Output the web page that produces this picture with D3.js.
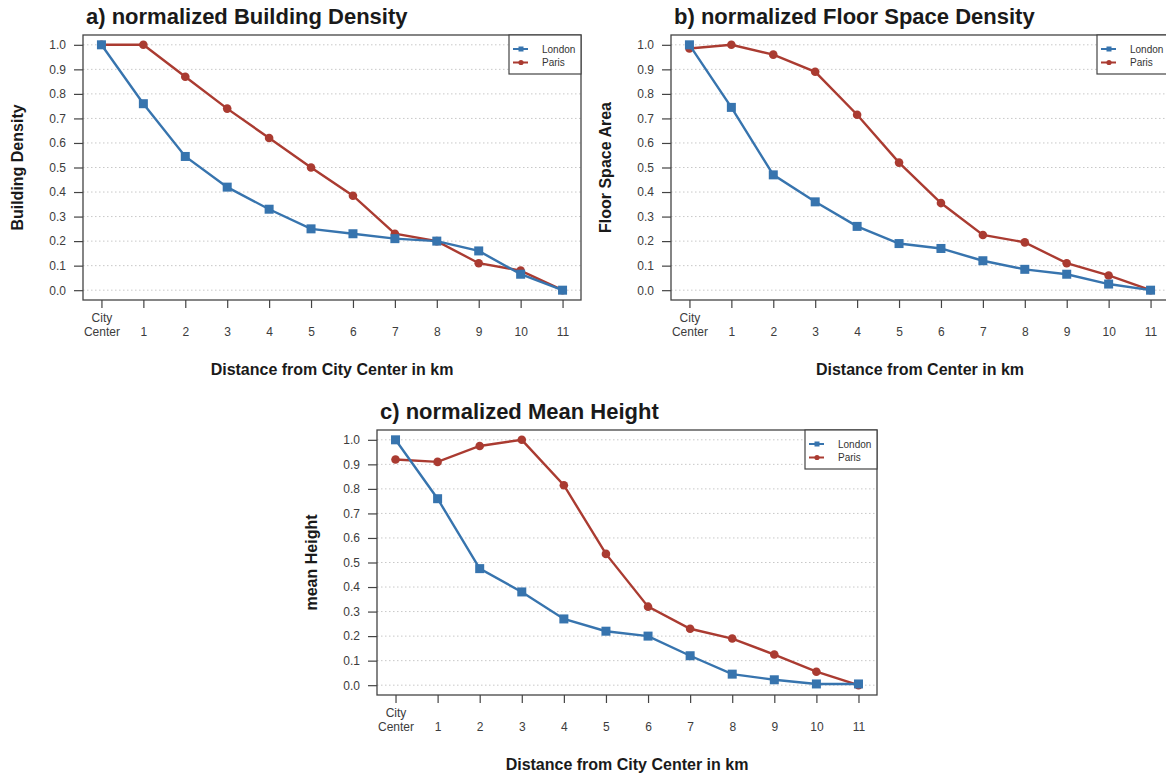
<!DOCTYPE html>
<html lang="en">
<head>
<meta charset="UTF-8">
<title>Normalized density profiles - London vs Paris</title>
<script src="https://d3js.org/d3.v7.min.js"></script>
<style>
  body { margin: 0; background: #fff; }
  svg { display: block; font-family: "Liberation Sans", Arial, sans-serif; }
  .grid line { stroke: #c8c8c8; stroke-dasharray: 1.5 2.5; }
  .axis path { display: none; }
  .axis line { stroke: #444; stroke-width: 1.2; }
  .axis text { fill: #3c3c3c; font-size: 12px; }
  .frame { fill: none; stroke: #444; stroke-width: 1.3; }
  .title { font-size: 22px; font-weight: bold; fill: #1a1a1a; }
  .axtitle { font-size: 16px; font-weight: bold; fill: #1a1a1a; }
  .legend text { font-size: 10px; fill: #333; }
</style>
</head>
<body>
<svg width="1166" height="776"></svg>
<script>
// distance classes (0 = City Center)
const distances = [0, 1, 2, 3, 4, 5, 6, 7, 8, 9, 10, 11];
const xTickLabels = ["City\nCenter", "1", "2", "3", "4", "5", "6", "7", "8", "9", "10", "11"];
const yTicks = [0.0, 0.1, 0.2, 0.3, 0.4, 0.5, 0.6, 0.7, 0.8, 0.9, 1.0];
const seriesNames = ["London", "Paris"];

// a) building density
const buildingLondon = [1.0, 0.76, 0.545, 0.42, 0.33, 0.25, 0.23, 0.21, 0.20, 0.16, 0.065, 0.0];
const buildingParis  = [1.0, 1.0, 0.87, 0.74, 0.62, 0.50, 0.385, 0.23, 0.20, 0.11, 0.08, 0.0];

// b) floor space density
const floorLondon = [1.0, 0.745, 0.47, 0.36, 0.26, 0.19, 0.17, 0.12, 0.085, 0.065, 0.025, 0.0];
const floorParis  = [0.985, 1.0, 0.96, 0.89, 0.715, 0.52, 0.355, 0.225, 0.195, 0.11, 0.06, 0.0];

// c) mean height
const heightLondon = [1.0, 0.76, 0.475, 0.38, 0.27, 0.22, 0.20, 0.12, 0.045, 0.022, 0.005, 0.005];
const heightParis  = [0.92, 0.91, 0.975, 1.0, 0.815, 0.535, 0.32, 0.23, 0.19, 0.125, 0.055, 0.0];

const colors = {London: "#3774ae", Paris: "#aa3b31"};

const svg = d3.select("svg");

function drawPanel(cfg) {
    const {left, top, width, height} = cfg;
    const g = svg.append("g").attr("transform", `translate(${left},${top})`);

    // R style: 4% padding on both axes
    const x = d3.scaleLinear().domain([-0.44, 11.44]).range([0, width]);
    const y = d3.scaleLinear().domain([-0.04, 1.04]).range([height, 0]);

    // dotted grid
    g.append("g").attr("class", "grid")
        .selectAll("line").data(yTicks).join("line")
        .attr("x1", 0).attr("x2", width)
        .attr("y1", d => y(d)).attr("y2", d => y(d));

    // y axis
    g.append("g").attr("class", "axis")
        .call(d3.axisLeft(y).tickValues(yTicks).tickSize(9).tickPadding(8).tickFormat(d3.format(".1f")));

    // x axis, with two-line first label
    const xa = g.append("g").attr("class", "axis")
        .attr("transform", `translate(0,${height})`)
        .call(d3.axisBottom(x).tickValues(distances).tickSize(8).tickFormat(""));
    xa.selectAll(".tick").append("text")
        .attr("text-anchor", "middle")
        .each(function(d, i) {
            const lines = xTickLabels[i].split("\n");
            const t = d3.select(this);
            lines.forEach((ln, k) => {
                t.append("tspan").attr("x", 0)
                    .attr("y", lines.length === 2 ? 22 + k * 14 : 36)
                    .text(ln);
            });
        });

    g.append("rect").attr("class", "frame").attr("width", width).attr("height", height);

    // lines and markers (Paris first so London sits on top)
    const line = d3.line().x((d, i) => x(distances[i])).y(d => y(d));
    g.append("path").datum(cfg.paris)
        .attr("fill", "none").attr("stroke", colors.Paris)
        .attr("stroke-width", 2.4).attr("d", line);
    g.append("g").selectAll("circle").data(cfg.paris).join("circle")
        .attr("cx", (d, i) => x(distances[i])).attr("cy", d => y(d))
        .attr("r", 4.3).attr("fill", colors.Paris);
    g.append("path").datum(cfg.london)
        .attr("fill", "none").attr("stroke", colors.London)
        .attr("stroke-width", 2.4).attr("d", line);
    g.append("g").selectAll("rect").data(cfg.london).join("rect")
        .attr("x", (d, i) => x(distances[i]) - 4.5).attr("y", d => y(d) - 4.5)
        .attr("width", 9).attr("height", 9).attr("fill", colors.London);

    // legend top right
    const lw = 72, lh = 39;
    const lg = g.append("g").attr("class", "legend").attr("transform", `translate(${width - lw},0)`);
    lg.append("rect").attr("width", lw).attr("height", lh)
        .attr("fill", "#fff").attr("stroke", "#444").attr("stroke-width", 1.2);
    seriesNames.forEach((n, i) => {
        const ly = 14 + i * 13.5;
        lg.append("line").attr("x1", 4).attr("x2", 19).attr("y1", ly).attr("y2", ly)
            .attr("stroke", colors[n]).attr("stroke-width", 2);
        if (n === "London") {
            lg.append("rect").attr("x", 9.5).attr("y", ly - 2.5).attr("width", 5).attr("height", 5).attr("fill", colors[n]);
        } else {
            lg.append("circle").attr("cx", 12).attr("cy", ly).attr("r", 2.6).attr("fill", colors[n]);
        }
        lg.append("text").attr("x", 33).attr("y", ly + 3.5).text(n);
    });

    // titles
    svg.append("text").attr("class", "title")
        .attr("x", left + 3).attr("y", top - 11).text(cfg.title);
    svg.append("text").attr("class", "axtitle")
        .attr("text-anchor", "middle")
        .attr("transform", `translate(${left - 60},${top + height / 2}) rotate(-90)`)
        .text(cfg.yLabel);
    svg.append("text").attr("class", "axtitle")
        .attr("text-anchor", "middle")
        .attr("x", left + width / 2).attr("y", top + height + 75)
        .text(cfg.xLabel);
}

drawPanel({left: 83, top: 35, width: 498, height: 265,
    title: "a) normalized Building Density", yLabel: "Building Density",
    xLabel: "Distance from City Center in km", london: buildingLondon, paris: buildingParis});

drawPanel({left: 671, top: 35, width: 498, height: 265,
    title: "b) normalized Floor Space Density", yLabel: "Floor Space Area",
    xLabel: "Distance from Center in km", london: floorLondon, paris: floorParis});

drawPanel({left: 377, top: 430, width: 500, height: 265,
    title: "c) normalized Mean Height", yLabel: "mean Height",
    xLabel: "Distance from City Center in km", london: heightLondon, paris: heightParis});
</script>
</body>
</html>
